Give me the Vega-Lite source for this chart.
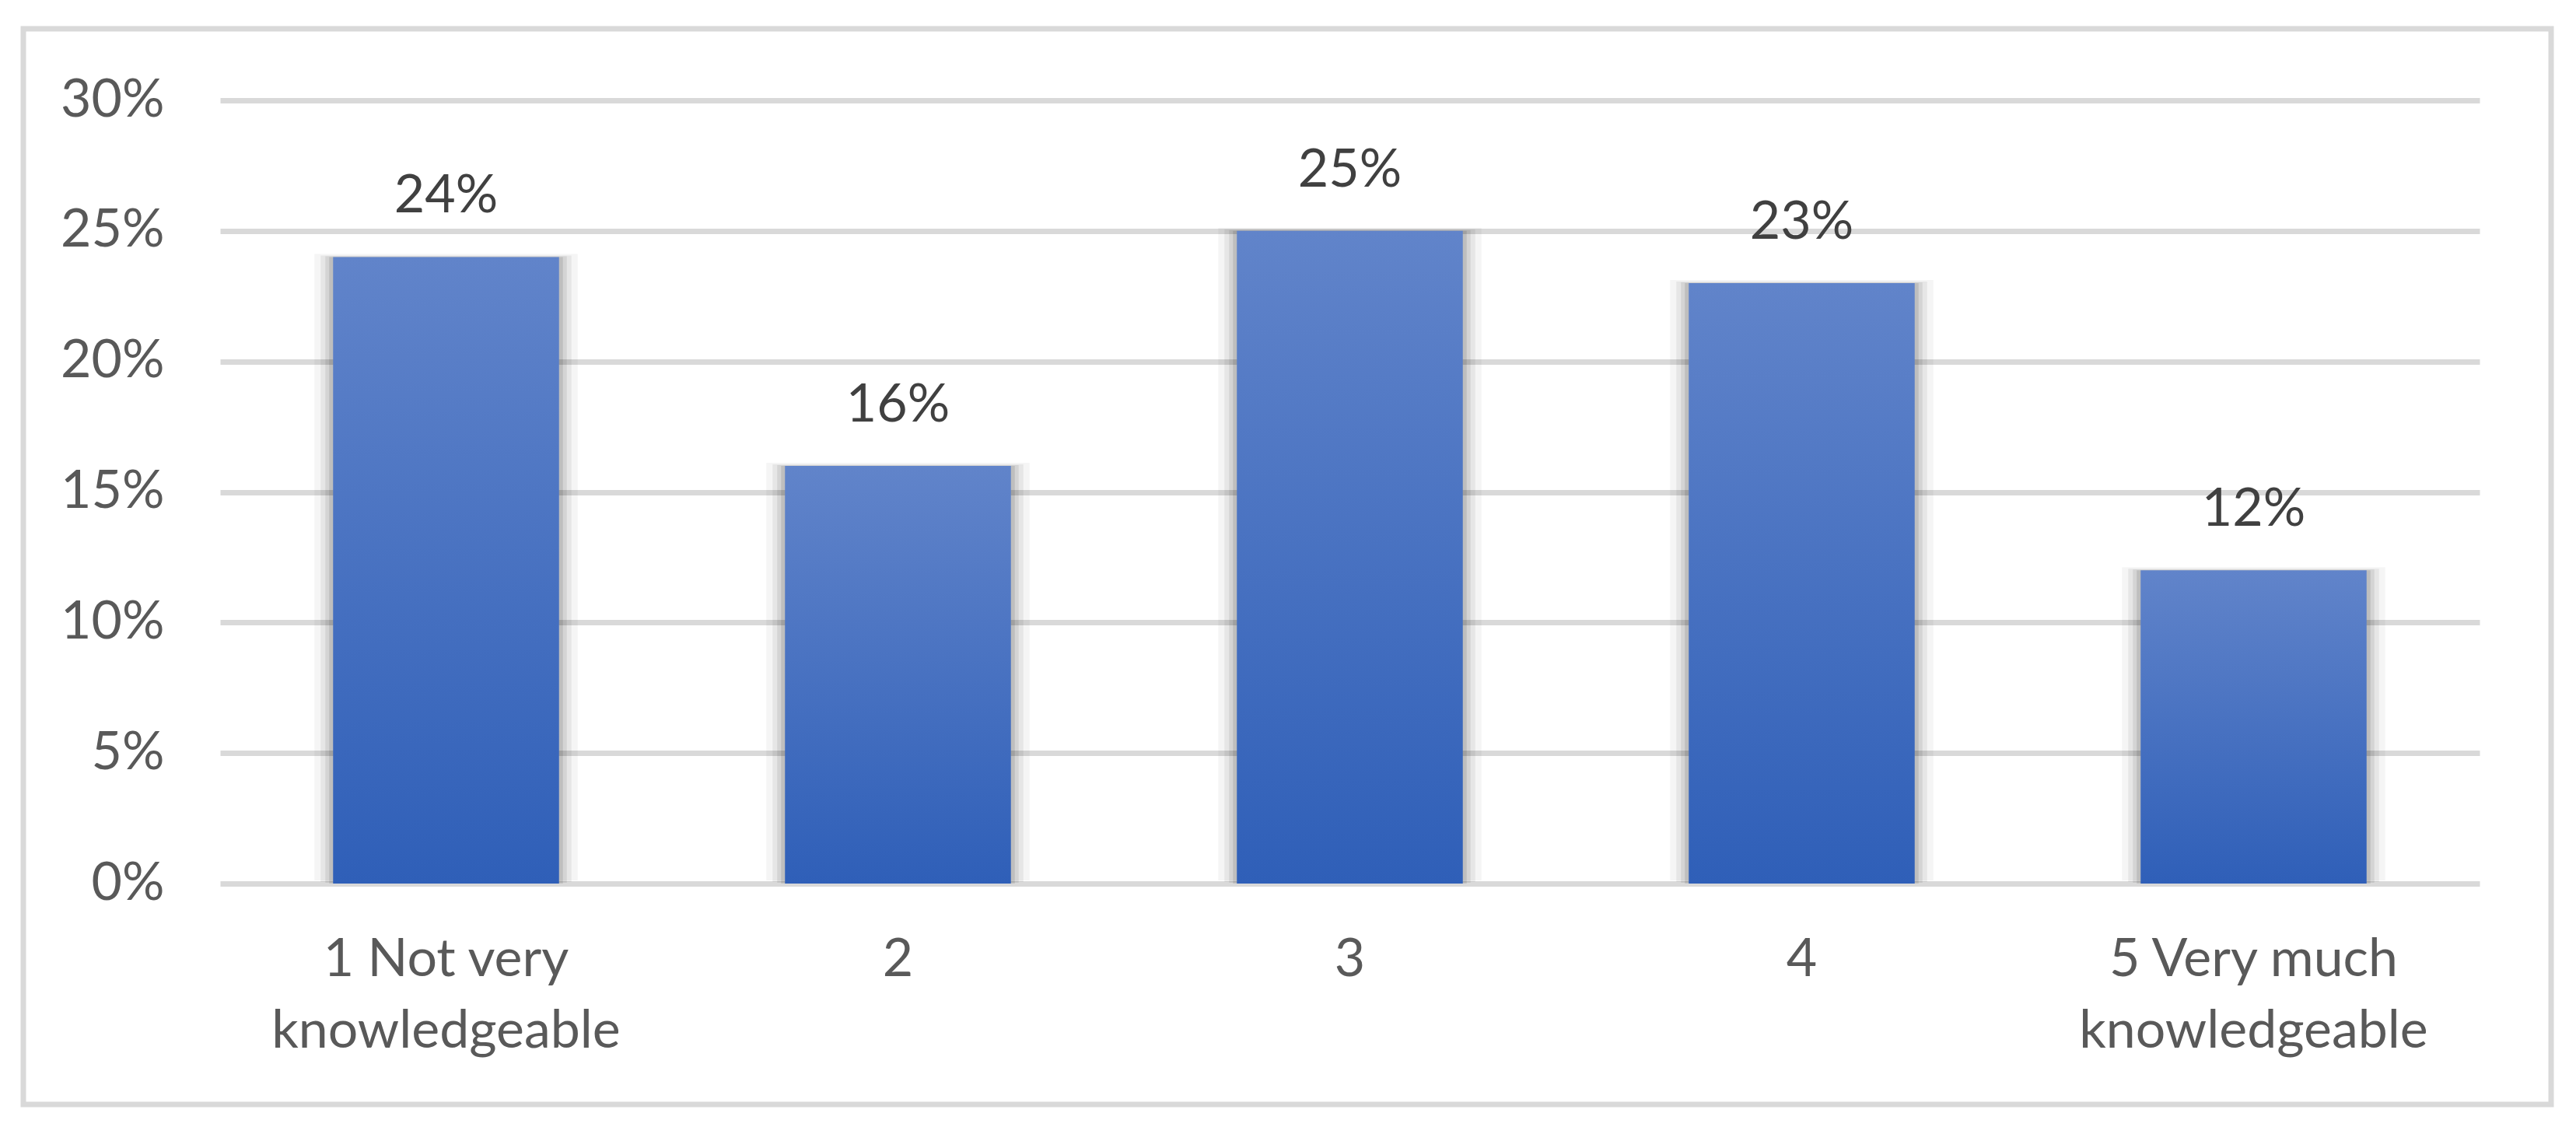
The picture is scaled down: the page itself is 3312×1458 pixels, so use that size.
{
  "$schema": "https://vega.github.io/schema/vega-lite/v6.json",
  "width": 3250,
  "height": 1383,
  "autosize": "none",
  "padding": {"left": 30, "top": 37, "right": 32, "bottom": 38},
  "background": "white",
  "config": {"view": {"stroke": "#d9d9d9", "strokeWidth": 7}, "font": "Lato"},
  "data": {"values": [
    {"level": "1 Not very knowledgeable", "share": 0.24},
    {"level": "2", "share": 0.16},
    {"level": "3", "share": 0.25},
    {"level": "4", "share": 0.23},
    {"level": "5 Very much knowledgeable", "share": 0.12}
  ]},
  "encoding": {
    "x": {
      "field": "level", "type": "nominal", "sort": null,
      "scale": {"range": [253, 3158], "paddingInner": 0, "paddingOuter": 0},
      "axis": {
        "title": null, "orient": "bottom", "offset": -284, "domain": false, "ticks": false,
        "grid": false, "labelPadding": 64, "labelAngle": 0, "labelFont": "Lato",
        "labelFontSize": 68, "labelColor": "#595959", "labelLineHeight": 92,
        "labelBaseline": "top", "labelLimit": 0,
        "labelExpr": "split(replace(datum.label, ' knowledgeable', '|knowledgeable'), '|')"
      }
    },
    "y": {
      "field": "share", "type": "quantitative",
      "scale": {"domain": [0, 0.3], "range": [1099, 92], "nice": false},
      "axis": {
        "title": null, "offset": -253, "domain": false, "ticks": false, "labelPadding": 72,
        "values": [0, 0.05, 0.1, 0.15, 0.2, 0.25, 0.3], "format": ".0%",
        "labelFont": "Lato", "labelFontSize": 68, "labelColor": "#595959", "labelFlush": false,
        "grid": true, "gridColor": "#d9d9d9", "gridWidth": 7
      }
    }
  },
  "layer": [
    {"mark": {"type": "bar", "color": "#000000", "opacity": 0.04, "width": {"band": 0.5826}, "yOffset": -4, "y2Offset": 6}},
    {"mark": {"type": "bar", "color": "#000000", "opacity": 0.06, "width": {"band": 0.5551}, "yOffset": -2, "y2Offset": 5}},
    {"mark": {"type": "bar", "color": "#000000", "opacity": 0.08, "width": {"band": 0.5344}, "yOffset": -1, "y2Offset": 4}},
    {"mark": {"type": "bar", "color": "#000000", "opacity": 0.1, "width": {"band": 0.5172}, "yOffset": 0, "y2Offset": 3}},
    {"mark": {"type": "bar", "width": {"band": 0.5},
      "color": {"gradient": "linear", "x1": 0, "y1": 0, "x2": 0, "y2": 1,
        "stops": [{"offset": 0, "color": "#6184CA"}, {"offset": 1, "color": "#2F5FB8"}]}}},
    {"mark": {"type": "text", "dy": -57, "baseline": "alphabetic", "fontSize": 68, "color": "#404040", "font": "Lato"},
      "encoding": {"text": {"field": "share", "type": "quantitative", "format": ".0%"}}}
  ]
}
